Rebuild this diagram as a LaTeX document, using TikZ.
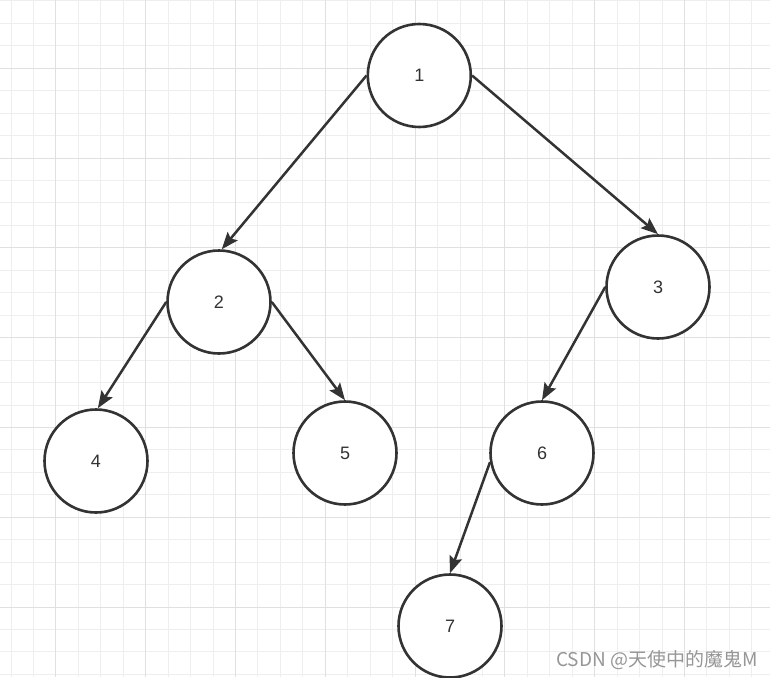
\documentclass[tikz,border=0pt]{standalone}
\usepackage{fontspec}
\setmainfont{Liberation Sans}
\newfontfamily\cjkfont{Noto Sans CJK SC}
\usetikzlibrary{arrows.meta}
\definecolor{minorgrid}{RGB}{238,238,238}
\definecolor{majorgrid}{RGB}{224,224,224}
\definecolor{ink}{RGB}{51,51,51}
\definecolor{wm}{RGB}{150,150,150}
\tikzset{
  treenode/.style={circle, draw=ink, line width=2.6pt, fill=white, minimum size=103pt, inner sep=0pt,
    font=\fontsize{18}{18}\selectfont, text=ink},
  edge/.style={draw=ink, line width=2.5pt, -{Stealth[length=17pt, width=13pt, inset=3pt]}},
  minorline/.style={draw=minorgrid, line width=1pt},
  majorline/.style={draw=majorgrid, line width=1pt}
}
\begin{document}
\begin{tikzpicture}[x=1pt, y=-1pt]
\useasboundingbox (0,0) rectangle (770,677);
\fill[white] (0,0) rectangle (770,677);
% grid
\foreach \k in {0,...,34} {
  \draw[minorline] ({11+22.45*\k},0) -- ({11+22.45*\k},677);
}
\foreach \k in {0,...,30} {
  \draw[minorline] (0,{0.9+22.45*\k}) -- (770,{0.9+22.45*\k});
}
\foreach \m in {0,...,8} {
  \draw[majorline] ({55.9+89.8*\m},0) -- ({55.9+89.8*\m},677);
}
\foreach \m in {0,...,7} {
  \draw[majorline] (0,{68.25+89.8*\m}) -- (770,{68.25+89.8*\m});
}
% nodes
\node[treenode] (n1) at (419.3,75.5) {1};
\node[treenode] (n2) at (219,302) {2};
\node[treenode] (n3) at (658,287) {3};
\node[treenode] (n4) at (96,461) {4};
\node[treenode] (n5) at (345,453) {5};
\node[treenode] (n6) at (542,453) {6};
\node[treenode] (n7) at (450,626) {7};
% edges
\draw[edge] (n1.west) -- (n2.87);
\draw[edge] (n1.east) -- (n3.north);
\draw[edge] (n2.west) -- (n4.88);
\draw[edge] (n2.east) -- (n5.north);
\draw[edge] (n3.west) -- (n6.north);
\draw[edge] (n6.190) -- (n7.north);
% watermark
\node[anchor=base west, inner sep=0pt, text=wm, font=\cjkfont\fontsize{19}{19}\selectfont] (wmark) at (556,666) {CSDN @天使中的魔鬼M};
\end{tikzpicture}
\end{document}
